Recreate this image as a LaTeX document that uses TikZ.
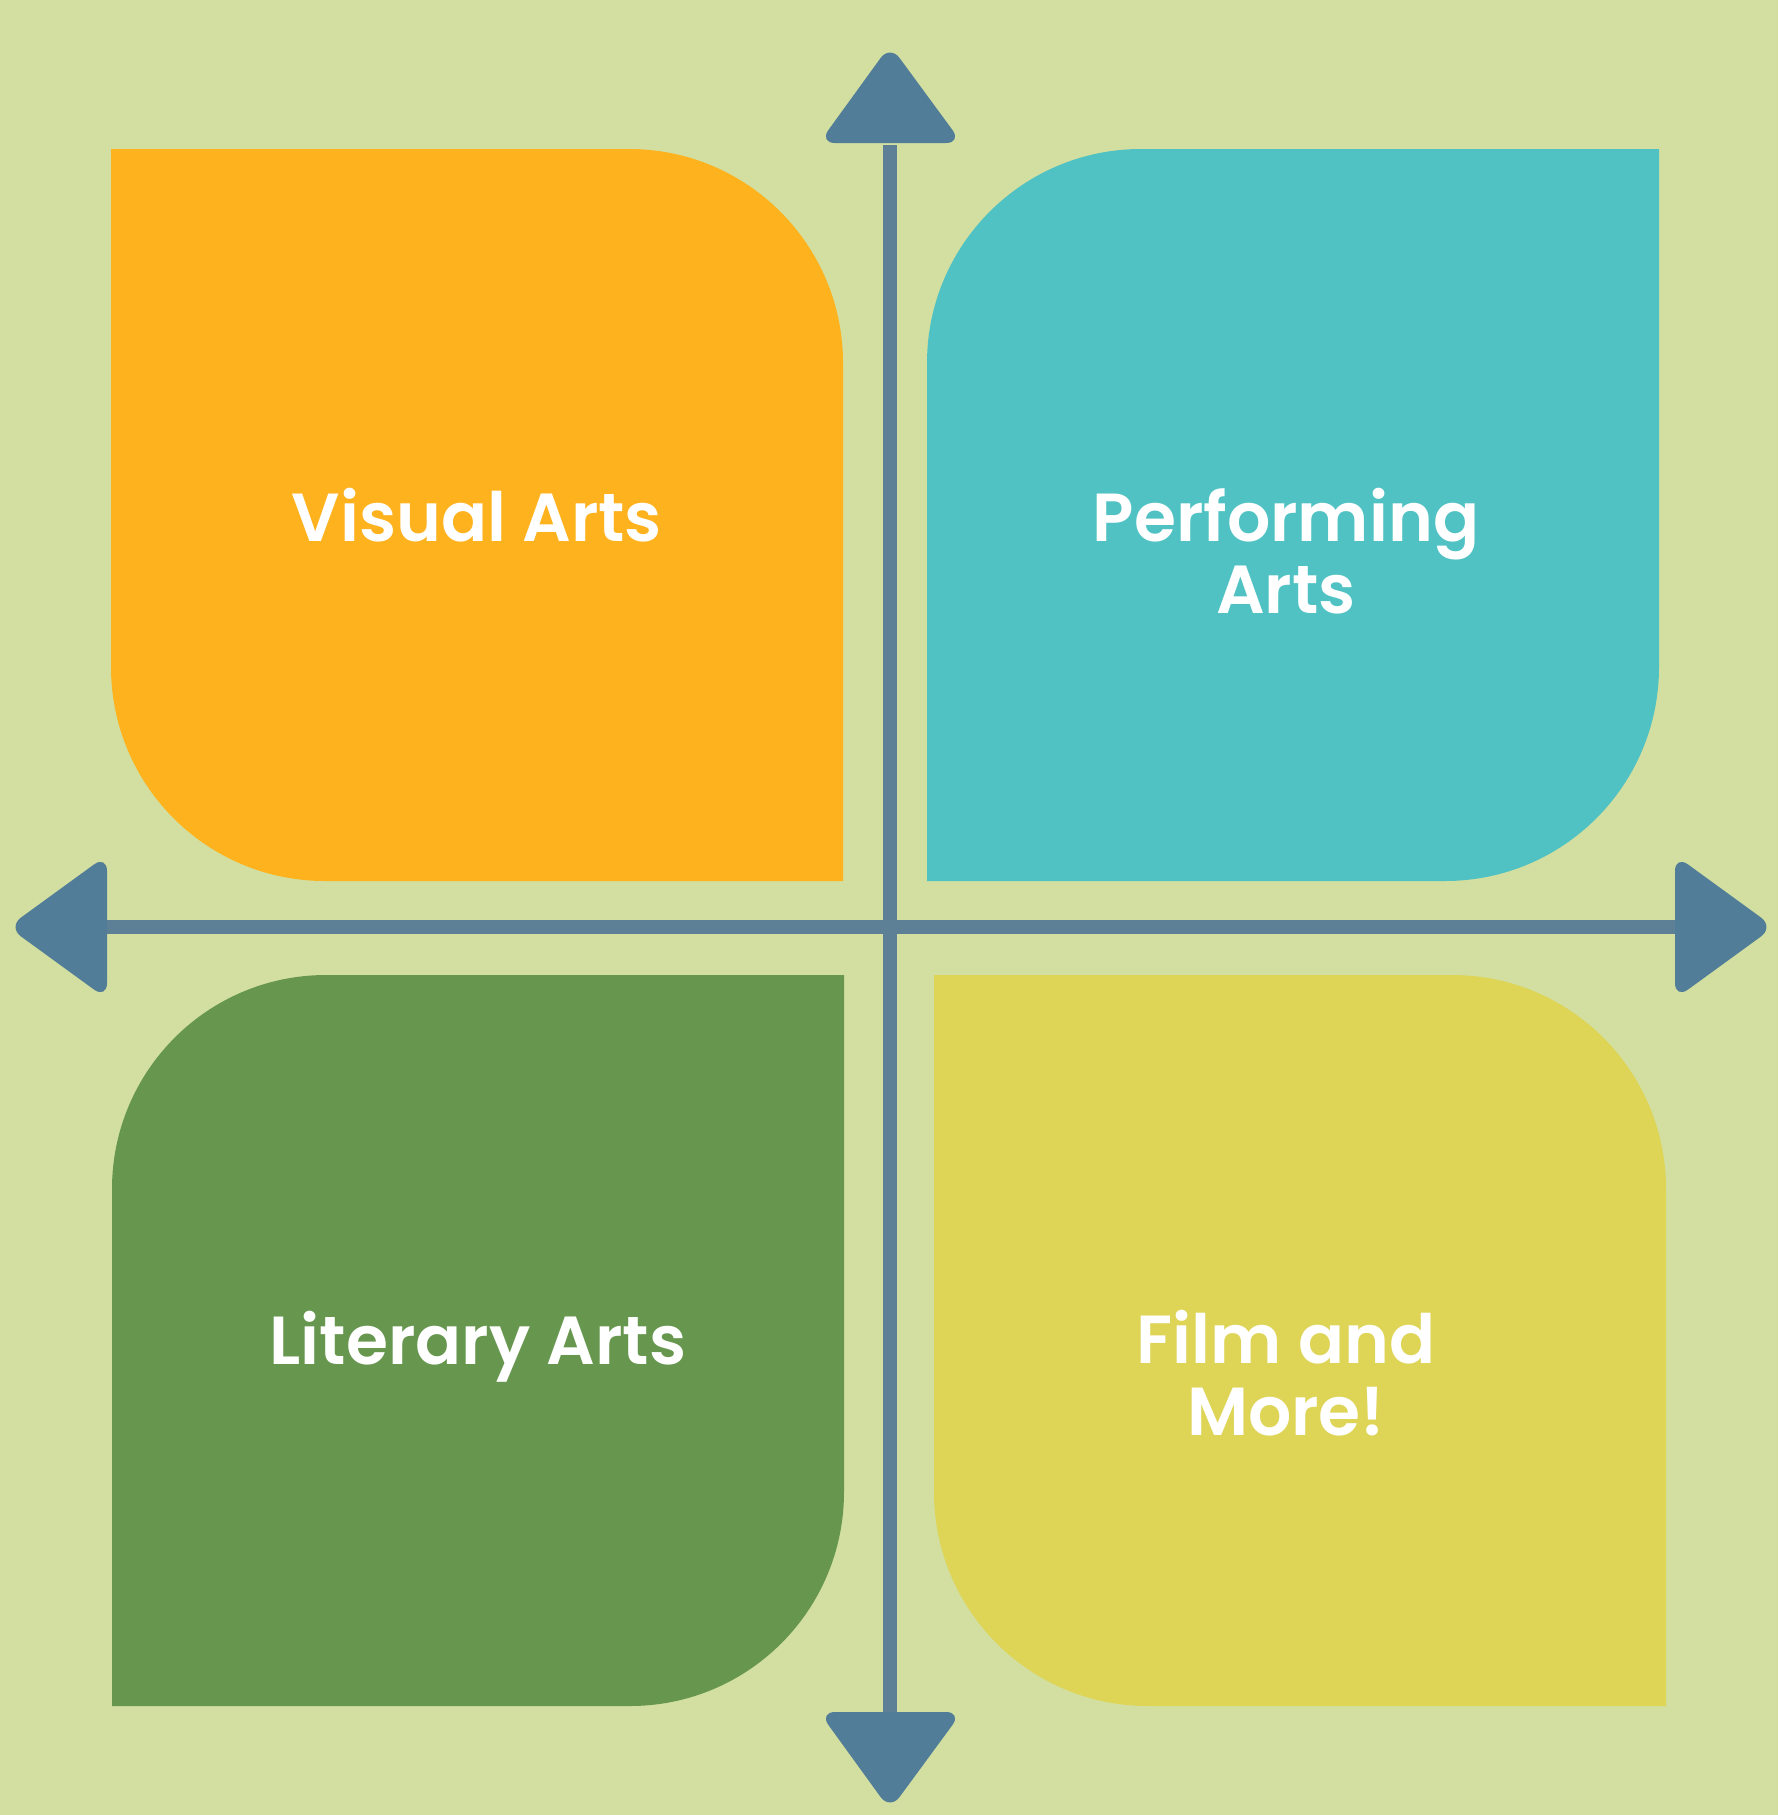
\documentclass[tikz,border=0pt]{standalone}
\usepackage{fontspec}
\newfontfamily\artsfont{Poppins SemiBold}
\definecolor{bgcol}{RGB}{210,223,160}
\definecolor{orangecol}{RGB}{253,178,30}
\definecolor{tealcol}{RGB}{80,194,196}
\definecolor{greencol}{RGB}{103,151,79}
\definecolor{yellowcol}{RGB}{222,212,86}
\definecolor{axiscol}{RGB}{94,128,150}
\definecolor{headcol}{RGB}{82,125,152}
\begin{document}
\begin{tikzpicture}[x=0.5pt,y=-0.5pt]
\tikzset{lbl/.style={text=white,anchor=base,align=center,inner sep=0pt,font=\artsfont\fontsize{34}{36}\selectfont}}
\fill [bgcol] (0,0) rectangle (1778,1815);
\fill [orangecol] (111,149) -- (629,149) arc [start angle=-90, end angle=0, radius=214] -- (843,881) -- (325,881) arc [start angle=90, end angle=180, radius=214] -- cycle;
\fill [tealcol] (1141,149) -- (1659,149) -- (1659,667) arc [start angle=0, end angle=90, radius=214] -- (927,881) -- (927,363) arc [start angle=180, end angle=270, radius=214] -- cycle;
\fill [greencol] (326,975) -- (844,975) -- (844,1492) arc [start angle=0, end angle=90, radius=214] -- (112,1706) -- (112,1189) arc [start angle=180, end angle=270, radius=214] -- cycle;
\fill [yellowcol] (934,975) -- (1452,975) arc [start angle=-90, end angle=0, radius=214] -- (1666,1706) -- (1148,1706) arc [start angle=90, end angle=180, radius=214] -- cycle;
\coordinate (top) at (890,145);
\coordinate (bot) at (890,1712);
\coordinate (lft) at (107,927);
\coordinate (rgt) at (1675,927);
\draw [axiscol, line width=7pt] (top) -- (bot);
\draw [axiscol, line width=7pt] (lft) -- (rgt);
\fill [headcol, rounded corners=8pt] (890,45) -- (962,143) -- (819,143) -- cycle;
\fill [headcol, rounded corners=8pt] (890,1810) -- (819,1712) -- (962,1712) -- cycle;
\fill [headcol, rounded corners=8pt] (8,927) -- (107,855) -- (107,999) -- cycle;
\fill [headcol, rounded corners=8pt] (1774,927) -- (1675,855) -- (1675,999) -- cycle;
\node [lbl] (vis) at (477,541) {Visual Arts};
\node [lbl] (perf) at (1286,613) {Performing\\Arts};
\node [lbl] (lit) at (478,1364) {Literary Arts};
\node [lbl] (film) at (1286,1435) {Film and\\More!};
\end{tikzpicture}
\end{document}
